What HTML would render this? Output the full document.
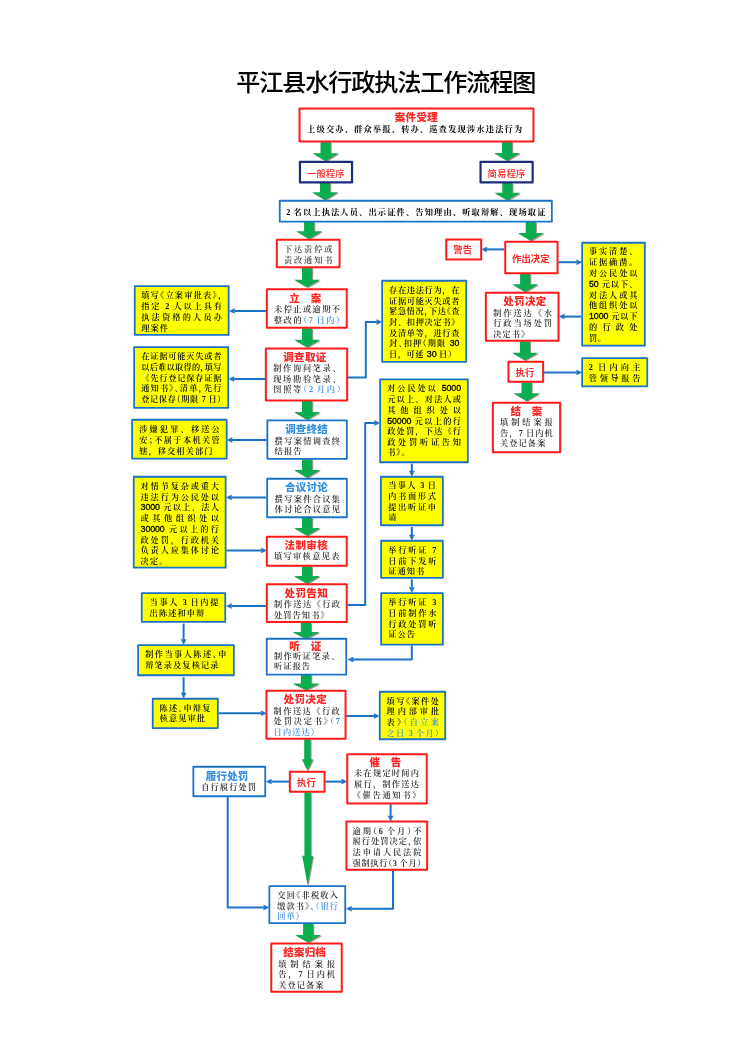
<!DOCTYPE html>
<html lang="zh-CN"><head><meta charset="utf-8"><title>平江县水行政执法工作流程图</title>
<style>
html,body{margin:0;padding:0;background:#fff;}
body{width:750px;height:1061px;position:relative;overflow:hidden;}
#pg{position:absolute;left:0;top:0;width:750px;height:1061px;background:#fff;overflow:hidden;filter:blur(0.45px);}
svg{position:absolute;left:0;top:0;}
.t{position:absolute;white-space:nowrap;height:14px;line-height:14px;margin:0;padding:0;}
.t span{line-height:0;}
.j{text-align:justify;text-align-last:justify;}
.l{text-align:left;}
.c{text-align:center;}
.k{font-family:"Liberation Serif","Noto Serif CJK SC",serif;}
.h{font-family:"Liberation Sans","Noto Sans CJK SC",sans-serif;}
.s{font-family:"Liberation Sans",sans-serif;font-size:1.08em;letter-spacing:-0.1px;font-weight:400;-webkit-text-stroke:0.3px currentColor;}
.b{color:#3d8fe0;}
.p{font-feature-settings:"halt";}
</style></head><body><div id="pg">

<svg width="750" height="1061" viewBox="0 0 750 1061">
<defs><filter id="sh" x="-20%" y="-20%" width="150%" height="160%"><feGaussianBlur stdDeviation="0.6"/></filter></defs>
<polyline fill="none" stroke="#1b72c8" stroke-width="2.00" stroke-linejoin="round" points="504.4,249.4 486.8,249.4"/>
<polygon fill="#1b72c8" stroke="#1b72c8" stroke-width="0.4" stroke-linejoin="round" points="481.7,249.4 486.8,246.9 486.8,251.9"/>
<polyline fill="none" stroke="#1b72c8" stroke-width="2.00" stroke-linejoin="round" points="558.4,262.2 576.7,262.2"/>
<polygon fill="#1b72c8" stroke="#1b72c8" stroke-width="0.4" stroke-linejoin="round" points="581.8,262.2 576.7,264.7 576.7,259.7"/>
<polyline fill="none" stroke="#1b72c8" stroke-width="2.00" stroke-linejoin="round" points="581.4,316.6 564.3,316.6"/>
<polygon fill="#1b72c8" stroke="#1b72c8" stroke-width="0.4" stroke-linejoin="round" points="559.2,316.6 564.3,314.1 564.3,319.1"/>
<polyline fill="none" stroke="#1b72c8" stroke-width="2.00" stroke-linejoin="round" points="544.0,372.4 576.7,372.4"/>
<polygon fill="#1b72c8" stroke="#1b72c8" stroke-width="0.4" stroke-linejoin="round" points="581.8,372.4 576.7,374.9 576.7,369.9"/>
<polyline fill="none" stroke="#1b72c8" stroke-width="2.00" stroke-linejoin="round" points="266.0,311.0 234.5,311.0"/>
<polygon fill="#1b72c8" stroke="#1b72c8" stroke-width="0.4" stroke-linejoin="round" points="229.4,311.0 234.5,308.5 234.5,313.5"/>
<polyline fill="none" stroke="#1b72c8" stroke-width="2.00" stroke-linejoin="round" points="265.0,379.0 233.9,379.0"/>
<polygon fill="#1b72c8" stroke="#1b72c8" stroke-width="0.4" stroke-linejoin="round" points="228.8,379.0 233.9,376.5 233.9,381.5"/>
<polyline fill="none" stroke="#1b72c8" stroke-width="2.00" stroke-linejoin="round" points="348.0,377.4 365.8,377.4 365.8,322.0 376.7,322.0"/>
<polygon fill="#1b72c8" stroke="#1b72c8" stroke-width="0.4" stroke-linejoin="round" points="381.8,322.0 376.7,324.5 376.7,319.5"/>
<polyline fill="none" stroke="#1b72c8" stroke-width="2.00" stroke-linejoin="round" points="266.6,440.0 232.1,440.0"/>
<polygon fill="#1b72c8" stroke="#1b72c8" stroke-width="0.4" stroke-linejoin="round" points="227.0,440.0 232.1,437.5 232.1,442.5"/>
<polyline fill="none" stroke="#1b72c8" stroke-width="2.00" stroke-linejoin="round" points="347.6,605.0 365.2,605.0 365.2,423.0 374.5,423.0"/>
<polygon fill="#1b72c8" stroke="#1b72c8" stroke-width="0.4" stroke-linejoin="round" points="379.6,423.0 374.5,425.5 374.5,420.5"/>
<polyline fill="none" stroke="#1b72c8" stroke-width="2.00" stroke-linejoin="round" points="266.4,497.4 231.5,497.4"/>
<polygon fill="#1b72c8" stroke="#1b72c8" stroke-width="0.4" stroke-linejoin="round" points="226.4,497.4 231.5,494.9 231.5,499.9"/>
<polyline fill="none" stroke="#1b72c8" stroke-width="2.00" stroke-linejoin="round" points="226.4,550.4 261.3,550.4"/>
<polygon fill="#1b72c8" stroke="#1b72c8" stroke-width="0.4" stroke-linejoin="round" points="266.4,550.4 261.3,552.9 261.3,547.9"/>
<polyline fill="none" stroke="#1b72c8" stroke-width="2.00" stroke-linejoin="round" points="266.0,606.0 231.5,606.0"/>
<polygon fill="#1b72c8" stroke="#1b72c8" stroke-width="0.4" stroke-linejoin="round" points="226.4,606.0 231.5,603.5 231.5,608.5"/>
<polyline fill="none" stroke="#1b72c8" stroke-width="2.00" stroke-linejoin="round" points="183.6,623.6 183.6,639.5"/>
<polygon fill="#1b72c8" stroke="#1b72c8" stroke-width="0.4" stroke-linejoin="round" points="183.6,644.6 181.1,639.5 186.1,639.5"/>
<polyline fill="none" stroke="#1b72c8" stroke-width="2.00" stroke-linejoin="round" points="183.6,677.2 183.6,692.9"/>
<polygon fill="#1b72c8" stroke="#1b72c8" stroke-width="0.4" stroke-linejoin="round" points="183.6,698.0 181.1,692.9 186.1,692.9"/>
<polyline fill="none" stroke="#1b72c8" stroke-width="2.00" stroke-linejoin="round" points="218.6,713.2 261.3,713.2"/>
<polygon fill="#1b72c8" stroke="#1b72c8" stroke-width="0.4" stroke-linejoin="round" points="266.4,713.2 261.3,715.7 261.3,710.7"/>
<polyline fill="none" stroke="#1b72c8" stroke-width="2.00" stroke-linejoin="round" points="411.8,463.6 411.8,471.1"/>
<polygon fill="#1b72c8" stroke="#1b72c8" stroke-width="0.4" stroke-linejoin="round" points="411.8,476.2 409.3,471.1 414.3,471.1"/>
<polyline fill="none" stroke="#1b72c8" stroke-width="2.00" stroke-linejoin="round" points="411.8,527.0 411.8,535.1"/>
<polygon fill="#1b72c8" stroke="#1b72c8" stroke-width="0.4" stroke-linejoin="round" points="411.8,540.2 409.3,535.1 414.3,535.1"/>
<polyline fill="none" stroke="#1b72c8" stroke-width="2.00" stroke-linejoin="round" points="411.8,579.4 411.8,587.5"/>
<polygon fill="#1b72c8" stroke="#1b72c8" stroke-width="0.4" stroke-linejoin="round" points="411.8,592.6 409.3,587.5 414.3,587.5"/>
<polyline fill="none" stroke="#1b72c8" stroke-width="2.00" stroke-linejoin="round" points="411.8,645.4 411.8,659.6 353.1,659.6"/>
<polygon fill="#1b72c8" stroke="#1b72c8" stroke-width="0.4" stroke-linejoin="round" points="348.0,659.6 353.1,657.1 353.1,662.1"/>
<polyline fill="none" stroke="#1b72c8" stroke-width="2.00" stroke-linejoin="round" points="346.4,716.0 374.1,716.0"/>
<polygon fill="#1b72c8" stroke="#1b72c8" stroke-width="0.4" stroke-linejoin="round" points="379.2,716.0 374.1,718.5 374.1,713.5"/>
<polyline fill="none" stroke="#1b72c8" stroke-width="2.00" stroke-linejoin="round" points="289.0,781.6 271.3,781.6"/>
<polygon fill="#1b72c8" stroke="#1b72c8" stroke-width="0.4" stroke-linejoin="round" points="266.2,781.6 271.3,779.1 271.3,784.1"/>
<polyline fill="none" stroke="#1b72c8" stroke-width="2.00" stroke-linejoin="round" points="325.4,781.6 341.7,781.6"/>
<polygon fill="#1b72c8" stroke="#1b72c8" stroke-width="0.4" stroke-linejoin="round" points="346.8,781.6 341.7,784.1 341.7,779.1"/>
<polyline fill="none" stroke="#1b72c8" stroke-width="2.00" stroke-linejoin="round" points="390.6,804.4 390.6,815.9"/>
<polygon fill="#1b72c8" stroke="#1b72c8" stroke-width="0.4" stroke-linejoin="round" points="390.6,821.0 388.1,815.9 393.1,815.9"/>
<polyline fill="none" stroke="#1b72c8" stroke-width="2.00" stroke-linejoin="round" points="393.0,870.6 393.0,908.8 351.5,908.8"/>
<polygon fill="#1b72c8" stroke="#1b72c8" stroke-width="0.4" stroke-linejoin="round" points="346.4,908.8 351.5,906.3 351.5,911.3"/>
<polyline fill="none" stroke="#1b72c8" stroke-width="2.00" stroke-linejoin="round" points="227.7,797.0 227.7,907.6 263.7,907.6"/>
<polygon fill="#1b72c8" stroke="#1b72c8" stroke-width="0.4" stroke-linejoin="round" points="268.8,907.6 263.7,910.1 263.7,905.1"/>
<polygon fill="#7a4a4a" opacity="0.6" filter="url(#sh)" points="321.5,143.0 331.7,143.0 331.7,154.3 339.6,154.3 326.6,161.9 313.6,154.3 321.5,154.3"/>
<polygon fill="#0aad4f" points="320.5,142.0 330.7,142.0 330.7,153.3 338.6,153.3 325.6,160.9 312.6,153.3 320.5,153.3"/>
<polygon fill="#7a4a4a" opacity="0.6" filter="url(#sh)" points="321.0,184.0 331.2,184.0 331.2,193.3 339.1,193.3 326.1,200.9 313.1,193.3 321.0,193.3"/>
<polygon fill="#0aad4f" points="320.0,183.0 330.2,183.0 330.2,192.3 338.1,192.3 325.1,199.9 312.1,192.3 320.0,192.3"/>
<polygon fill="#7a4a4a" opacity="0.6" filter="url(#sh)" points="503.0,143.0 513.2,143.0 513.2,154.1 521.1,154.1 508.1,161.7 495.1,154.1 503.0,154.1"/>
<polygon fill="#0aad4f" points="502.0,142.0 512.2,142.0 512.2,153.1 520.1,153.1 507.1,160.7 494.1,153.1 502.0,153.1"/>
<polygon fill="#7a4a4a" opacity="0.6" filter="url(#sh)" points="503.3,184.0 513.5,184.0 513.5,193.7 521.4,193.7 508.4,201.3 495.4,193.7 503.3,193.7"/>
<polygon fill="#0aad4f" points="502.3,183.0 512.5,183.0 512.5,192.7 520.4,192.7 507.4,200.3 494.4,192.7 502.3,192.7"/>
<polygon fill="#7a4a4a" opacity="0.6" filter="url(#sh)" points="305.1,223.0 315.3,223.0 315.3,232.3 323.2,232.3 310.2,239.9 297.2,232.3 305.1,232.3"/>
<polygon fill="#0aad4f" points="304.1,222.0 314.3,222.0 314.3,231.3 322.2,231.3 309.2,238.9 296.2,231.3 304.1,231.3"/>
<polygon fill="#7a4a4a" opacity="0.6" filter="url(#sh)" points="526.7,223.0 536.9,223.0 536.9,234.1 544.8,234.1 531.8,241.7 518.8,234.1 526.7,234.1"/>
<polygon fill="#0aad4f" points="525.7,222.0 535.9,222.0 535.9,233.1 543.8,233.1 530.8,240.7 517.8,233.1 525.7,233.1"/>
<polygon fill="#7a4a4a" opacity="0.6" filter="url(#sh)" points="303.0,268.6 313.2,268.6 313.2,280.7 321.1,280.7 308.1,288.3 295.1,280.7 303.0,280.7"/>
<polygon fill="#0aad4f" points="302.0,267.6 312.2,267.6 312.2,279.7 320.1,279.7 307.1,287.3 294.1,279.7 302.0,279.7"/>
<polygon fill="#7a4a4a" opacity="0.6" filter="url(#sh)" points="521.1,274.6 531.3,274.6 531.3,285.3 539.2,285.3 526.2,292.9 513.2,285.3 521.1,285.3"/>
<polygon fill="#0aad4f" points="520.1,273.6 530.3,273.6 530.3,284.3 538.2,284.3 525.2,291.9 512.2,284.3 520.1,284.3"/>
<polygon fill="#7a4a4a" opacity="0.6" filter="url(#sh)" points="520.9,342.2 531.1,342.2 531.1,353.7 539.0,353.7 526.0,361.3 513.0,353.7 520.9,353.7"/>
<polygon fill="#0aad4f" points="519.9,341.2 530.1,341.2 530.1,352.7 538.0,352.7 525.0,360.3 512.0,352.7 519.9,352.7"/>
<polygon fill="#7a4a4a" opacity="0.6" filter="url(#sh)" points="522.5,383.2 532.7,383.2 532.7,394.3 540.6,394.3 527.6,401.9 514.6,394.3 522.5,394.3"/>
<polygon fill="#0aad4f" points="521.5,382.2 531.7,382.2 531.7,393.3 539.6,393.3 526.6,400.9 513.6,393.3 521.5,393.3"/>
<polygon fill="#7a4a4a" opacity="0.6" filter="url(#sh)" points="303.0,329.2 313.2,329.2 313.2,340.7 321.1,340.7 308.1,348.3 295.1,340.7 303.0,340.7"/>
<polygon fill="#0aad4f" points="302.0,328.2 312.2,328.2 312.2,339.7 320.1,339.7 307.1,347.3 294.1,339.7 302.0,339.7"/>
<polygon fill="#7a4a4a" opacity="0.6" filter="url(#sh)" points="303.0,402.0 313.2,402.0 313.2,413.1 321.1,413.1 308.1,420.7 295.1,413.1 303.0,413.1"/>
<polygon fill="#0aad4f" points="302.0,401.0 312.2,401.0 312.2,412.1 320.1,412.1 307.1,419.7 294.1,412.1 302.0,412.1"/>
<polygon fill="#7a4a4a" opacity="0.6" filter="url(#sh)" points="303.0,460.2 313.2,460.2 313.2,471.1 321.1,471.1 308.1,478.7 295.1,471.1 303.0,471.1"/>
<polygon fill="#0aad4f" points="302.0,459.2 312.2,459.2 312.2,470.1 320.1,470.1 307.1,477.7 294.1,470.1 302.0,470.1"/>
<polygon fill="#7a4a4a" opacity="0.6" filter="url(#sh)" points="303.0,518.6 313.2,518.6 313.2,529.1 321.1,529.1 308.1,536.7 295.1,529.1 303.0,529.1"/>
<polygon fill="#0aad4f" points="302.0,517.6 312.2,517.6 312.2,528.1 320.1,528.1 307.1,535.7 294.1,528.1 302.0,528.1"/>
<polygon fill="#7a4a4a" opacity="0.6" filter="url(#sh)" points="302.9,567.2 313.1,567.2 313.1,577.1 321.0,577.1 308.0,584.7 295.0,577.1 302.9,577.1"/>
<polygon fill="#0aad4f" points="301.9,566.2 312.1,566.2 312.1,576.1 320.0,576.1 307.0,583.7 294.0,576.1 301.9,576.1"/>
<polygon fill="#7a4a4a" opacity="0.6" filter="url(#sh)" points="301.8,623.4 312.2,623.4 312.2,633.1 320.6,633.1 307.0,639.7 293.4,633.1 301.8,633.1"/>
<polygon fill="#0aad4f" points="300.8,622.4 311.2,622.4 311.2,632.1 319.6,632.1 306.0,638.7 292.4,632.1 300.8,632.1"/>
<polygon fill="#7a4a4a" opacity="0.6" filter="url(#sh)" points="301.9,676.0 312.3,676.0 312.3,684.5 320.7,684.5 307.1,691.1 293.5,684.5 301.9,684.5"/>
<polygon fill="#0aad4f" points="300.9,675.0 311.3,675.0 311.3,683.5 319.7,683.5 306.1,690.1 292.5,683.5 300.9,683.5"/>
<polygon fill="#7a4a4a" opacity="0.6" filter="url(#sh)" points="305.2,740.2 311.6,740.2 311.6,760.3 314.0,760.3 308.4,771.5 302.8,760.3 305.2,760.3"/>
<polygon fill="#0aad4f" points="304.2,739.2 310.6,739.2 310.6,759.3 313.0,759.3 307.4,770.5 301.8,759.3 304.2,759.3"/>
<polygon fill="#7a4a4a" opacity="0.6" filter="url(#sh)" points="305.4,793.2 311.8,793.2 311.8,856.7 314.0,856.7 308.6,886.3 303.2,856.7 305.4,856.7"/>
<polygon fill="#0aad4f" points="304.4,792.2 310.8,792.2 310.8,855.7 313.0,855.7 307.6,885.3 302.2,855.7 304.4,855.7"/>
<polygon fill="#7a4a4a" opacity="0.6" filter="url(#sh)" points="304.1,924.4 314.3,924.4 314.3,935.9 322.2,935.9 309.2,943.5 296.2,935.9 304.1,935.9"/>
<polygon fill="#0aad4f" points="303.1,923.4 313.3,923.4 313.3,934.9 321.2,934.9 308.2,942.5 295.2,934.9 303.1,934.9"/>
<rect x="299.55" y="108.45" width="233.90" height="33.10" fill="#ffffff" stroke="#ff1a1a" stroke-width="2.00" stroke-linejoin="round"/>
<rect x="299.95" y="161.95" width="52.10" height="20.50" fill="#ffffff" stroke="#1d2b7d" stroke-width="2.20" stroke-linejoin="round"/>
<rect x="480.55" y="161.95" width="52.10" height="20.50" fill="#ffffff" stroke="#1d2b7d" stroke-width="2.20" stroke-linejoin="round"/>
<rect x="279.75" y="200.75" width="272.10" height="20.90" fill="#ffffff" stroke="#1b72c8" stroke-width="1.80" stroke-linejoin="round"/>
<rect x="276.85" y="239.85" width="62.70" height="27.30" fill="#ffffff" stroke="#ff1a1a" stroke-width="2.00" stroke-linejoin="round"/>
<rect x="446.25" y="239.45" width="34.90" height="20.10" fill="#ffffff" stroke="#ff1a1a" stroke-width="2.00" stroke-linejoin="round"/>
<rect x="505.25" y="241.85" width="52.30" height="31.30" fill="#ffffff" stroke="#ff1a1a" stroke-width="2.00" stroke-linejoin="round"/>
<rect x="582.15" y="242.75" width="62.70" height="102.90" fill="#ffff00" stroke="#1b72c8" stroke-width="1.80" stroke-linejoin="round"/>
<rect x="266.85" y="289.25" width="79.90" height="38.50" fill="#ffffff" stroke="#ff1a1a" stroke-width="2.00" stroke-linejoin="round"/>
<rect x="134.75" y="286.15" width="93.90" height="48.70" fill="#ffff00" stroke="#1b72c8" stroke-width="1.80" stroke-linejoin="round"/>
<rect x="265.85" y="348.45" width="81.30" height="52.10" fill="#ffffff" stroke="#ff1a1a" stroke-width="2.00" stroke-linejoin="round"/>
<rect x="134.15" y="347.15" width="94.10" height="60.70" fill="#ffff00" stroke="#1b72c8" stroke-width="1.80" stroke-linejoin="round"/>
<rect x="382.15" y="280.75" width="84.10" height="81.10" fill="#ffff00" stroke="#1b72c8" stroke-width="1.80" stroke-linejoin="round"/>
<rect x="485.85" y="292.85" width="72.70" height="47.90" fill="#ffffff" stroke="#ff1a1a" stroke-width="2.00" stroke-linejoin="round"/>
<rect x="508.45" y="361.85" width="34.70" height="19.90" fill="#ffffff" stroke="#ff1a1a" stroke-width="2.00" stroke-linejoin="round"/>
<rect x="582.15" y="358.15" width="65.10" height="28.30" fill="#ffff00" stroke="#1b72c8" stroke-width="1.80" stroke-linejoin="round"/>
<rect x="492.85" y="402.85" width="67.30" height="49.30" fill="#ffffff" stroke="#ff1a1a" stroke-width="2.00" stroke-linejoin="round"/>
<rect x="267.35" y="420.35" width="79.50" height="38.50" fill="#ffffff" stroke="#1b72c8" stroke-width="1.80" stroke-linejoin="round"/>
<rect x="132.15" y="419.75" width="94.50" height="38.90" fill="#ffff00" stroke="#1b72c8" stroke-width="1.80" stroke-linejoin="round"/>
<rect x="380.15" y="379.35" width="87.70" height="82.90" fill="#ffff00" stroke="#1b72c8" stroke-width="1.80" stroke-linejoin="round"/>
<rect x="267.15" y="478.75" width="79.70" height="38.50" fill="#ffffff" stroke="#1b72c8" stroke-width="1.80" stroke-linejoin="round"/>
<rect x="133.75" y="476.75" width="91.90" height="90.90" fill="#ffff00" stroke="#1b72c8" stroke-width="1.80" stroke-linejoin="round"/>
<rect x="266.85" y="536.85" width="79.90" height="28.90" fill="#ffffff" stroke="#ff1a1a" stroke-width="2.00" stroke-linejoin="round"/>
<rect x="266.85" y="584.25" width="79.90" height="37.70" fill="#ffffff" stroke="#ff1a1a" stroke-width="2.00" stroke-linejoin="round"/>
<rect x="141.75" y="593.15" width="83.50" height="28.70" fill="#ffff00" stroke="#1b72c8" stroke-width="1.80" stroke-linejoin="round"/>
<rect x="380.95" y="476.75" width="61.90" height="48.50" fill="#ffff00" stroke="#1b72c8" stroke-width="1.80" stroke-linejoin="round"/>
<rect x="381.15" y="540.75" width="61.70" height="37.10" fill="#ffff00" stroke="#1b72c8" stroke-width="1.80" stroke-linejoin="round"/>
<rect x="381.15" y="593.15" width="61.70" height="51.50" fill="#ffff00" stroke="#1b72c8" stroke-width="1.80" stroke-linejoin="round"/>
<rect x="266.75" y="638.75" width="79.50" height="35.90" fill="#ffffff" stroke="#1b72c8" stroke-width="1.80" stroke-linejoin="round"/>
<rect x="138.15" y="645.15" width="95.70" height="30.10" fill="#ffff00" stroke="#1b72c8" stroke-width="1.80" stroke-linejoin="round"/>
<rect x="152.75" y="698.75" width="65.10" height="29.30" fill="#ffff00" stroke="#1b72c8" stroke-width="1.80" stroke-linejoin="round"/>
<rect x="266.45" y="690.85" width="79.10" height="47.90" fill="#ffffff" stroke="#ff1a1a" stroke-width="2.00" stroke-linejoin="round"/>
<rect x="379.75" y="691.75" width="65.50" height="47.50" fill="#ffff00" stroke="#1b72c8" stroke-width="1.80" stroke-linejoin="round"/>
<rect x="193.35" y="766.75" width="71.90" height="29.50" fill="#ffffff" stroke="#1b72c8" stroke-width="1.80" stroke-linejoin="round"/>
<rect x="289.85" y="771.65" width="34.70" height="20.10" fill="#ffffff" stroke="#ff1a1a" stroke-width="2.00" stroke-linejoin="round"/>
<rect x="347.25" y="754.25" width="79.50" height="49.30" fill="#ffffff" stroke="#ff1a1a" stroke-width="2.00" stroke-linejoin="round"/>
<rect x="346.45" y="821.45" width="80.70" height="48.30" fill="#ffffff" stroke="#ff1a1a" stroke-width="2.00" stroke-linejoin="round"/>
<rect x="269.35" y="886.15" width="75.90" height="36.90" fill="#ffffff" stroke="#1b72c8" stroke-width="1.80" stroke-linejoin="round"/>
<rect x="271.25" y="943.45" width="70.50" height="48.30" fill="#ffffff" stroke="#ff1a1a" stroke-width="2.00" stroke-linejoin="round"/>
</svg>
<div class="t h l" id="title" style="left:236.3px;top:68.0px;width:303.7px;font-size:24.20px;font-weight:500;color:#000;height:30px;line-height:30px;letter-spacing:-1.20px;">平江县水行政执法工作流程图</div>
<div class="t h j" id="h_accept" style="left:394.8px;top:109.8px;width:42.9px;font-size:10.50px;font-weight:900;color:#ff2626;">案件受理</div>
<div class="t k j" id="accept_0" style="left:307.1px;top:122.8px;width:215.1px;font-size:8.20px;font-weight:700;color:#000000;">上级交办、群众举报、转办、巡查发现涉水违法行为</div>
<div class="t h j" id="h_general" style="left:307.0px;top:166.5px;width:37.5px;font-size:9.40px;font-weight:500;color:#ff2626;">一般程序</div>
<div class="t h j" id="h_simple" style="left:487.6px;top:166.5px;width:37.7px;font-size:9.40px;font-weight:500;color:#ff2626;">简易程序</div>
<div class="t k j" id="wide_0" style="left:286.2px;top:206.4px;width:259.2px;font-size:8.20px;font-weight:700;color:#000000;">2 名以上执法人员、出示证件、告知理由、听取辩解、现场取证</div>
<div class="t k j" id="notice_0" style="left:284.0px;top:242.7px;width:48.4px;font-size:8.20px;font-weight:600;color:#444;">下达责停或</div>
<div class="t k j" id="notice_1" style="left:284.0px;top:253.7px;width:48.4px;font-size:8.20px;font-weight:600;color:#444;">责改通知书</div>
<div class="t h j" id="h_warn" style="left:453.2px;top:242.6px;width:18.9px;font-size:9.40px;font-weight:700;color:#ff2626;">警告</div>
<div class="t h j" id="h_decide" style="left:512.0px;top:252.0px;width:37.7px;font-size:9.40px;font-weight:700;color:#ff2626;">作出决定</div>
<div class="t k j" id="y_fact_0" style="left:589.0px;top:245.1px;width:48.4px;font-size:8.20px;font-weight:600;color:#000000;">事实清楚、</div>
<div class="t k j" id="y_fact_1" style="left:589.0px;top:256.2px;width:48.4px;font-size:8.20px;font-weight:600;color:#000000;">证据确凿。</div>
<div class="t k j" id="y_fact_2" style="left:589.0px;top:266.9px;width:48.4px;font-size:8.20px;font-weight:600;color:#000000;">对公民处以</div>
<div class="t k j" id="y_fact_3" style="left:589.0px;top:277.6px;width:48.4px;font-size:8.20px;font-weight:600;color:#000000;"><span class="s">50</span> 元以下、</div>
<div class="t k j" id="y_fact_4" style="left:589.0px;top:288.7px;width:48.4px;font-size:8.20px;font-weight:600;color:#000000;">对法人或其</div>
<div class="t k j" id="y_fact_5" style="left:589.0px;top:298.6px;width:48.4px;font-size:8.20px;font-weight:600;color:#000000;">他组织处以</div>
<div class="t k j" id="y_fact_6" style="left:589.0px;top:309.9px;width:48.4px;font-size:8.20px;font-weight:600;color:#000000;"><span class="s">1000</span> 元以下</div>
<div class="t k j" id="y_fact_7" style="left:589.0px;top:321.4px;width:48.4px;font-size:8.20px;font-weight:600;color:#000000;">的行政处</div>
<div class="t k l" id="y_fact_8" style="left:589.0px;top:332.2px;width:48.4px;font-size:8.20px;font-weight:600;color:#000000;letter-spacing:0.52px;">罚。</div>
<div class="t h j" id="h_lian" style="left:289.2px;top:291.4px;width:32.1px;font-size:10.50px;font-weight:900;color:#ff2626;">立　案</div>
<div class="t k j" id="lian_0" style="left:274.0px;top:303.0px;width:66.0px;font-size:8.20px;font-weight:600;color:#2c2c2c;">未停止或逾期不</div>
<div class="t k j" id="lian_1" style="left:274.0px;top:313.8px;width:66.0px;font-size:8.20px;font-weight:600;color:#2c2c2c;">整改的<span class="b"><span class="p">（</span>7 日内<span class="p">）</span></span></div>
<div class="t k j" id="y1_0" style="left:141.2px;top:289.2px;width:80.8px;font-size:8.20px;font-weight:600;color:#000000;">填写<span class="p">《</span>立案审批表<span class="p">》，</span></div>
<div class="t k j" id="y1_1" style="left:141.2px;top:299.9px;width:80.8px;font-size:8.20px;font-weight:600;color:#000000;">指定 2 人以上具有</div>
<div class="t k j" id="y1_2" style="left:141.2px;top:310.9px;width:80.8px;font-size:8.20px;font-weight:600;color:#000000;">执法资格的人员办</div>
<div class="t k l" id="y1_3" style="left:141.2px;top:322.0px;width:80.8px;font-size:8.20px;font-weight:600;color:#000000;letter-spacing:1.10px;">理案件</div>
<div class="t h j" id="h_diaocha" style="left:283.2px;top:350.0px;width:43.1px;font-size:10.50px;font-weight:900;color:#ff2626;">调查取证</div>
<div class="t k j" id="diaocha_0" style="left:273.2px;top:362.0px;width:67.6px;font-size:8.20px;font-weight:600;color:#2c2c2c;">制作询问笔录、</div>
<div class="t k j" id="diaocha_1" style="left:273.2px;top:373.0px;width:67.6px;font-size:8.20px;font-weight:600;color:#2c2c2c;">现场勘验笔录、</div>
<div class="t k j" id="diaocha_2" style="left:273.2px;top:383.3px;width:67.6px;font-size:8.20px;font-weight:600;color:#2c2c2c;">图照等<span class="b"><span class="p">（</span>2 月内<span class="p">）</span></span></div>
<div class="t k j" id="y2_0" style="left:141.2px;top:350.0px;width:80.2px;font-size:8.20px;font-weight:600;color:#000000;">在证据可能灭失或者</div>
<div class="t k j" id="y2_1" style="left:141.2px;top:361.1px;width:80.2px;font-size:8.20px;font-weight:600;color:#000000;">以后难以取得的<span class="p">，</span>填写</div>
<div class="t k j" id="y2_2" style="left:141.2px;top:371.8px;width:80.2px;font-size:8.20px;font-weight:600;color:#000000;">《先行登记保存证据</div>
<div class="t k j" id="y2_3" style="left:141.2px;top:381.8px;width:80.2px;font-size:8.20px;font-weight:600;color:#000000;">通知书<span class="p">》、</span>清单<span class="p">，</span>先行</div>
<div class="t k j" id="y2_4" style="left:141.2px;top:393.0px;width:80.2px;font-size:8.20px;font-weight:600;color:#000000;">登记保存<span class="p">（</span>期限 7 日<span class="p">）</span></div>
<div class="t k j" id="y4_0" style="left:389.0px;top:283.7px;width:70.4px;font-size:8.20px;font-weight:600;color:#000000;">存在违法行为，在</div>
<div class="t k j" id="y4_1" style="left:389.0px;top:294.9px;width:70.4px;font-size:8.20px;font-weight:600;color:#000000;">证据可能灭失或者</div>
<div class="t k j" id="y4_2" style="left:389.0px;top:304.8px;width:70.4px;font-size:8.20px;font-weight:600;color:#000000;">紧急情况<span class="p">，</span>下达<span class="p">《</span>查</div>
<div class="t k j" id="y4_3" style="left:389.0px;top:315.9px;width:70.4px;font-size:8.20px;font-weight:600;color:#000000;">封、扣押决定书》</div>
<div class="t k j" id="y4_4" style="left:389.0px;top:326.9px;width:70.4px;font-size:8.20px;font-weight:600;color:#000000;">及清单等，进行查</div>
<div class="t k j" id="y4_5" style="left:389.0px;top:337.1px;width:70.4px;font-size:8.20px;font-weight:600;color:#000000;">封<span class="p">、</span>扣押<span class="p">（</span>期限 <span class="s">30</span></div>
<div class="t k l" id="y4_6" style="left:389.0px;top:348.0px;width:70.4px;font-size:8.20px;font-weight:600;color:#000000;letter-spacing:0.60px;">日，可延 <span class="s">30</span> 日）</div>
<div class="t h j" id="h_penalty_r" style="left:503.2px;top:294.4px;width:43.1px;font-size:10.50px;font-weight:900;color:#ff2626;">处罚决定</div>
<div class="t k j" id="penalty_r_0" style="left:493.2px;top:306.6px;width:58.8px;font-size:8.20px;font-weight:600;color:#2c2c2c;">制作送达《水</div>
<div class="t k j" id="penalty_r_1" style="left:493.2px;top:317.0px;width:58.8px;font-size:8.20px;font-weight:600;color:#2c2c2c;">行政当场处罚</div>
<div class="t k l" id="penalty_r_2" style="left:493.2px;top:327.9px;width:58.8px;font-size:8.20px;font-weight:600;color:#2c2c2c;letter-spacing:1.10px;">决定书》</div>
<div class="t h j" id="h_exec_r" style="left:515.6px;top:365.5px;width:18.7px;font-size:9.40px;font-weight:700;color:#ff2626;">执行</div>
<div class="t k j" id="y_report_0" style="left:588.8px;top:360.8px;width:51.6px;font-size:8.20px;font-weight:600;color:#000000;">2 日内向主</div>
<div class="t k j" id="y_report_1" style="left:588.8px;top:372.1px;width:51.6px;font-size:8.20px;font-weight:600;color:#000000;">管领导报告</div>
<div class="t h j" id="h_jiean" style="left:510.6px;top:404.0px;width:31.7px;font-size:10.50px;font-weight:900;color:#ff2626;">结　案</div>
<div class="t k j" id="jiean_0" style="left:500.0px;top:416.4px;width:52.8px;font-size:8.20px;font-weight:600;color:#2c2c2c;">填制结案报</div>
<div class="t k j" id="jiean_1" style="left:500.0px;top:426.7px;width:52.8px;font-size:8.20px;font-weight:600;color:#2c2c2c;">告，7 日内机</div>
<div class="t k l" id="jiean_2" style="left:500.0px;top:436.5px;width:52.8px;font-size:8.20px;font-weight:600;color:#2c2c2c;letter-spacing:1.10px;">关登记备案</div>
<div class="t h j" id="h_zhongjie" style="left:285.2px;top:422.0px;width:42.5px;font-size:10.50px;font-weight:900;color:#3490e2;">调查终结</div>
<div class="t k j" id="zhongjie_0" style="left:274.6px;top:435.0px;width:65.4px;font-size:8.20px;font-weight:600;color:#2c2c2c;">撰写案情调查终</div>
<div class="t k l" id="zhongjie_1" style="left:274.6px;top:445.0px;width:65.4px;font-size:8.20px;font-weight:600;color:#2c2c2c;letter-spacing:1.10px;">结报告</div>
<div class="t k j" id="y3_0" style="left:139.2px;top:422.9px;width:80.6px;font-size:8.20px;font-weight:600;color:#000000;">涉嫌犯罪、移送公</div>
<div class="t k j" id="y3_1" style="left:139.2px;top:433.6px;width:80.6px;font-size:8.20px;font-weight:600;color:#000000;">安<span class="p">；</span>不属于本机关管</div>
<div class="t k l" id="y3_2" style="left:139.2px;top:444.7px;width:80.6px;font-size:8.20px;font-weight:600;color:#000000;letter-spacing:1.10px;">辖，移交相关部门</div>
<div class="t k j" id="y5_0" style="left:387.2px;top:381.6px;width:73.8px;font-size:8.20px;font-weight:600;color:#000000;">对公民处以 <span class="s">5000</span></div>
<div class="t k j" id="y5_1" style="left:387.2px;top:393.2px;width:73.8px;font-size:8.20px;font-weight:600;color:#000000;">元以上、对法人或</div>
<div class="t k j" id="y5_2" style="left:387.2px;top:403.8px;width:73.8px;font-size:8.20px;font-weight:600;color:#000000;">其他组织处以</div>
<div class="t k j" id="y5_3" style="left:387.2px;top:414.6px;width:73.8px;font-size:8.20px;font-weight:600;color:#000000;"><span class="s">50000</span> 元以上的行</div>
<div class="t k j" id="y5_4" style="left:387.2px;top:424.8px;width:73.8px;font-size:8.20px;font-weight:600;color:#000000;">政处罚，下达《行</div>
<div class="t k j" id="y5_5" style="left:387.2px;top:435.9px;width:73.8px;font-size:8.20px;font-weight:600;color:#000000;">政处罚听证告知</div>
<div class="t k l" id="y5_6" style="left:387.2px;top:446.1px;width:73.8px;font-size:8.20px;font-weight:600;color:#000000;letter-spacing:0.88px;">书》。</div>
<div class="t h j" id="h_heyi" style="left:285.0px;top:480.0px;width:42.7px;font-size:10.50px;font-weight:900;color:#3490e2;">合议讨论</div>
<div class="t k j" id="heyi_0" style="left:274.6px;top:493.0px;width:65.4px;font-size:8.20px;font-weight:600;color:#2c2c2c;">撰写案件合议集</div>
<div class="t k j" id="heyi_1" style="left:274.6px;top:503.0px;width:65.4px;font-size:8.20px;font-weight:600;color:#2c2c2c;">体讨论合议意见</div>
<div class="t k j" id="y6_0" style="left:140.6px;top:479.8px;width:78.4px;font-size:8.20px;font-weight:600;color:#000000;">对情节复杂或重大</div>
<div class="t k j" id="y6_1" style="left:140.6px;top:490.7px;width:78.4px;font-size:8.20px;font-weight:600;color:#000000;">违法行为公民处以</div>
<div class="t k j" id="y6_2" style="left:140.6px;top:500.7px;width:78.4px;font-size:8.20px;font-weight:600;color:#000000;"><span class="s">3000</span> 元以上、法人</div>
<div class="t k j" id="y6_3" style="left:140.6px;top:511.9px;width:78.4px;font-size:8.20px;font-weight:600;color:#000000;">或其他组织处以</div>
<div class="t k j" id="y6_4" style="left:140.6px;top:523.1px;width:78.4px;font-size:8.20px;font-weight:600;color:#000000;"><span class="s">30000</span> 元以上的行</div>
<div class="t k j" id="y6_5" style="left:140.6px;top:533.6px;width:78.4px;font-size:8.20px;font-weight:600;color:#000000;">政处罚，行政机关</div>
<div class="t k j" id="y6_6" style="left:140.6px;top:543.5px;width:78.4px;font-size:8.20px;font-weight:600;color:#000000;">负责人应集体讨论</div>
<div class="t k l" id="y6_7" style="left:140.6px;top:555.0px;width:78.4px;font-size:8.20px;font-weight:600;color:#000000;letter-spacing:1.10px;">决定。</div>
<div class="t h j" id="h_fazhi" style="left:284.6px;top:538.4px;width:43.1px;font-size:10.50px;font-weight:900;color:#ff2626;">法制审核</div>
<div class="t k j" id="fazhi_0" style="left:274.0px;top:549.9px;width:65.4px;font-size:8.20px;font-weight:600;color:#2c2c2c;">填写审核意见表</div>
<div class="t h j" id="h_gaozhi" style="left:284.6px;top:586.0px;width:43.1px;font-size:10.50px;font-weight:900;color:#ff2626;">处罚告知</div>
<div class="t k j" id="gaozhi_0" style="left:274.0px;top:598.0px;width:66.0px;font-size:8.20px;font-weight:600;color:#2c2c2c;">制作送达《行政</div>
<div class="t k l" id="gaozhi_1" style="left:274.0px;top:609.0px;width:66.0px;font-size:8.20px;font-weight:600;color:#2c2c2c;letter-spacing:1.10px;">处罚告知书》</div>
<div class="t k j" id="y7_0" style="left:149.6px;top:596.0px;width:68.8px;font-size:8.20px;font-weight:600;color:#000000;">当事人 3 日内提</div>
<div class="t k l" id="y7_1" style="left:149.6px;top:607.1px;width:68.8px;font-size:8.20px;font-weight:600;color:#000000;letter-spacing:1.10px;">出陈述和申辩</div>
<div class="t k j" id="y9_0" style="left:388.2px;top:479.2px;width:47.8px;font-size:8.20px;font-weight:600;color:#000000;">当事人 3 日</div>
<div class="t k j" id="y9_1" style="left:388.2px;top:490.2px;width:47.8px;font-size:8.20px;font-weight:600;color:#000000;">内书面形式</div>
<div class="t k j" id="y9_2" style="left:388.2px;top:500.7px;width:47.8px;font-size:8.20px;font-weight:600;color:#000000;">提出听证申</div>
<div class="t k l" id="y9_3" style="left:388.2px;top:510.6px;width:47.8px;font-size:8.20px;font-weight:600;color:#000000;letter-spacing:1.10px;">请</div>
<div class="t k j" id="y10_0" style="left:388.2px;top:544.0px;width:48.2px;font-size:8.20px;font-weight:600;color:#000000;">举行听证 7</div>
<div class="t k j" id="y10_1" style="left:388.2px;top:555.1px;width:48.2px;font-size:8.20px;font-weight:600;color:#000000;">日前下发听</div>
<div class="t k l" id="y10_2" style="left:388.2px;top:564.9px;width:48.2px;font-size:8.20px;font-weight:600;color:#000000;letter-spacing:1.10px;">证通知书</div>
<div class="t k j" id="y11_0" style="left:388.2px;top:596.0px;width:48.2px;font-size:8.20px;font-weight:600;color:#000000;">举行听证 3</div>
<div class="t k j" id="y11_1" style="left:388.2px;top:606.5px;width:48.2px;font-size:8.20px;font-weight:600;color:#000000;">日前制作水</div>
<div class="t k j" id="y11_2" style="left:388.2px;top:618.0px;width:48.2px;font-size:8.20px;font-weight:600;color:#000000;">行政处罚听</div>
<div class="t k l" id="y11_3" style="left:388.2px;top:628.4px;width:48.2px;font-size:8.20px;font-weight:600;color:#000000;letter-spacing:1.10px;">证公告</div>
<div class="t h j" id="h_tingzheng" style="left:289.2px;top:639.4px;width:32.1px;font-size:10.50px;font-weight:900;color:#ff2626;">听　证</div>
<div class="t k j" id="tingzheng_0" style="left:274.0px;top:650.0px;width:65.4px;font-size:8.20px;font-weight:600;color:#2c2c2c;">制作听证笔录、</div>
<div class="t k l" id="tingzheng_1" style="left:274.0px;top:660.1px;width:65.4px;font-size:8.20px;font-weight:600;color:#2c2c2c;letter-spacing:1.10px;">听证报告</div>
<div class="t k j" id="y8_0" style="left:145.2px;top:648.0px;width:81.2px;font-size:8.20px;font-weight:600;color:#000000;">制作当事人陈述<span class="p">、</span>申</div>
<div class="t k l" id="y8_1" style="left:145.2px;top:658.8px;width:81.2px;font-size:8.20px;font-weight:600;color:#000000;letter-spacing:1.10px;">辩笔录及复核记录</div>
<div class="t k j" id="y12_0" style="left:159.6px;top:701.6px;width:50.8px;font-size:8.20px;font-weight:600;color:#000000;">陈述<span class="p">、</span>申辩复</div>
<div class="t k l" id="y12_1" style="left:159.6px;top:712.0px;width:50.8px;font-size:8.20px;font-weight:600;color:#000000;letter-spacing:1.10px;">核意见审批</div>
<div class="t h j" id="h_chufa" style="left:283.6px;top:692.4px;width:43.1px;font-size:10.50px;font-weight:900;color:#ff2626;">处罚决定</div>
<div class="t k j" id="chufa_0" style="left:273.6px;top:704.8px;width:66.2px;font-size:8.20px;font-weight:600;color:#2c2c2c;">制作送达《行政</div>
<div class="t k j" id="chufa_1" style="left:273.6px;top:714.9px;width:66.2px;font-size:8.20px;font-weight:600;color:#2c2c2c;">处罚决定书<span class="p">》</span><span class="b"><span class="p">（</span>7</span></div>
<div class="t k l" id="chufa_2" style="left:273.6px;top:725.8px;width:66.2px;font-size:8.20px;font-weight:600;color:#2c2c2c;letter-spacing:1.10px;"><span class="b">日内送达）</span></div>
<div class="t k j" id="y13_0" style="left:386.6px;top:695.0px;width:52.4px;font-size:8.20px;font-weight:600;color:#000000;">填写<span class="p">《</span>案件处</div>
<div class="t k j" id="y13_1" style="left:386.6px;top:704.9px;width:52.4px;font-size:8.20px;font-weight:600;color:#000000;">理内部审批</div>
<div class="t k j" id="y13_2" style="left:386.6px;top:715.9px;width:52.4px;font-size:8.20px;font-weight:600;color:#000000;">表<span class="p">》</span><span class="b"><span class="p">（</span>自立案</span></div>
<div class="t k j" id="y13_3" style="left:386.6px;top:726.9px;width:52.4px;font-size:8.20px;font-weight:600;color:#000000;"><span class="b">之日 3 个月<span class="p">）</span></span></div>
<div class="t h j" id="h_lvxing" style="left:205.7px;top:768.9px;width:42.7px;font-size:10.50px;font-weight:900;color:#3490e2;">履行处罚</div>
<div class="t k j" id="lvxing_0" style="left:201.2px;top:780.9px;width:54.8px;font-size:8.20px;font-weight:600;color:#222;">自行履行处罚</div>
<div class="t h j" id="h_exec" style="left:297.0px;top:775.5px;width:18.9px;font-size:9.40px;font-weight:700;color:#ff2626;">执行</div>
<div class="t h j" id="h_cuigao" style="left:369.6px;top:755.1px;width:31.7px;font-size:10.50px;font-weight:900;color:#ff2626;">催　告</div>
<div class="t k j" id="cuigao_0" style="left:354.0px;top:766.6px;width:65.0px;font-size:8.20px;font-weight:600;color:#2c2c2c;">未在规定时间内</div>
<div class="t k j" id="cuigao_1" style="left:354.0px;top:777.5px;width:65.0px;font-size:8.20px;font-weight:600;color:#2c2c2c;">履行，制作送达</div>
<div class="t k j" id="cuigao3_0" style="left:356.6px;top:789.3px;width:59.8px;font-size:8.20px;font-weight:600;color:#2c2c2c;"><span class="p">《</span>催告通知书<span class="p">》</span></div>
<div class="t k j" id="yuqi_0" style="left:352.6px;top:824.9px;width:68.8px;font-size:8.20px;font-weight:600;color:#2c2c2c;">逾期<span class="p">（</span>6 个月<span class="p">）</span>不</div>
<div class="t k j" id="yuqi_1" style="left:352.6px;top:835.4px;width:68.8px;font-size:8.20px;font-weight:600;color:#2c2c2c;">履行处罚决定<span class="p">，</span>依</div>
<div class="t k j" id="yuqi_2" style="left:352.6px;top:845.8px;width:68.8px;font-size:8.20px;font-weight:600;color:#2c2c2c;">法申请人民法院</div>
<div class="t k j" id="yuqi_3" style="left:352.6px;top:857.2px;width:68.8px;font-size:8.20px;font-weight:600;color:#2c2c2c;">强制执行<span class="p">（</span>3 个月<span class="p">）</span></div>
<div class="t k j" id="jiaohui_0" style="left:277.2px;top:888.9px;width:60.8px;font-size:8.20px;font-weight:600;color:#2c2c2c;">交回<span class="p">《</span>非税收入</div>
<div class="t k j" id="jiaohui_1" style="left:277.2px;top:900.1px;width:60.8px;font-size:8.20px;font-weight:600;color:#2c2c2c;">缴款书<span class="p">》、</span><span class="b"><span class="p">（</span>银行</span></div>
<div class="t k l" id="jiaohui_2" style="left:277.2px;top:910.2px;width:60.8px;font-size:8.20px;font-weight:600;color:#2c2c2c;letter-spacing:1.10px;"><span class="b">回单）</span></div>
<div class="t h j" id="h_guidang" style="left:283.2px;top:945.0px;width:42.7px;font-size:10.50px;font-weight:900;color:#ff2626;">结案归档</div>
<div class="t k j" id="guidang_0" style="left:278.2px;top:957.8px;width:56.8px;font-size:8.20px;font-weight:600;color:#2c2c2c;">填制结案报</div>
<div class="t k j" id="guidang_1" style="left:278.2px;top:967.7px;width:56.8px;font-size:8.20px;font-weight:600;color:#2c2c2c;">告，7 日内机</div>
<div class="t k l" id="guidang_2" style="left:278.2px;top:978.9px;width:56.8px;font-size:8.20px;font-weight:600;color:#2c2c2c;letter-spacing:1.10px;">关登记备案</div>
</div></body></html>
